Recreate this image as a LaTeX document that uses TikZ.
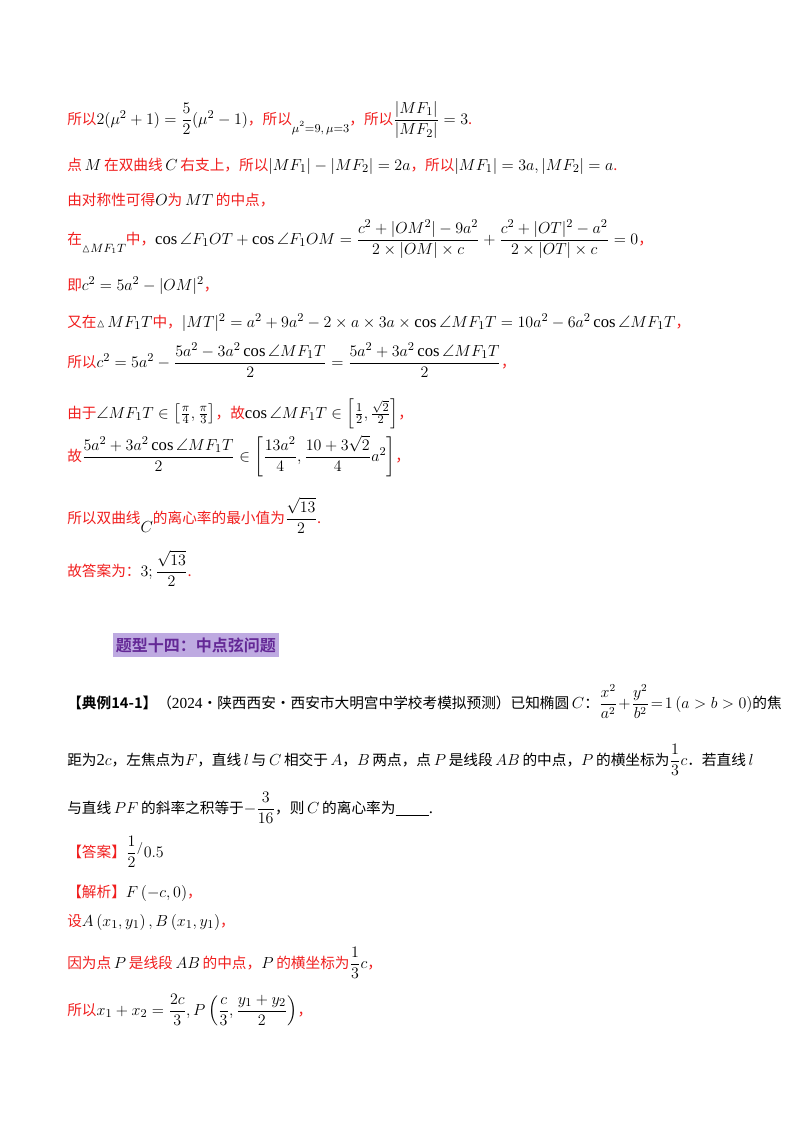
\documentclass[tikz,border=0pt]{standalone}
\usepackage{amsmath,amssymb}
\usepackage{fontspec}
\setmainfont{Liberation Serif}
\newfontfamily\cjk{Noto Sans CJK SC}
\newfontfamily\cjkb{Noto Sans CJK SC Bold}
\definecolor{rd}{RGB}{240,30,30}
\definecolor{hl}{RGB}{190,170,225}
\definecolor{pu}{RGB}{100,40,150}
\newcommand{\zh}[1]{{\fontsize{11}{13}\cjk\color{rd}#1}}
\newcommand{\zk}[1]{{\fontsize{11}{13}\cjk #1}}
\begin{document}
\begin{tikzpicture}[x=0.75pt,y=-0.75pt,
  ln/.style={anchor=base west,inner sep=0pt,font=\fontsize{12.5}{14}\selectfont}]
\useasboundingbox (0,0) rectangle (800,1132);
\node[ln] (l1) at (67,124) {\zh{所以}$2(\mu^2+1)=\dfrac52(\mu^2-1)$\zh{，所以}\raisebox{-6pt}{$\scriptstyle\mu^2=9,\,\mu=3$}\zh{，所以}$\dfrac{|MF_1|}{|MF_2|}=3$\zh{.}};
\node[ln] (l2) at (67,170) {\zh{点}$\,M\,$\zh{在双曲线}$\,C\,$\zh{右支上，所以}$|MF_1|-|MF_2|=2a$\zh{，所以}$|MF_1|=3a,|MF_2|=a$\zh{.}};
\node[ln] (l3) at (67,205) {\zh{由对称性可得}$O$\zh{为}$\,MT\,$\zh{的中点，}};
\node[ln] (l4) at (67,244) {\zh{在}\raisebox{-6pt}{$\scriptstyle\vartriangle MF_1T$}\zh{中，}$\cos\angle F_1OT+\cos\angle F_1OM=\dfrac{c^2+|OM^2|-9a^2}{2\times|OM|\times c}+\dfrac{c^2+|OT|^2-a^2}{2\times|OT|\times c}=0$\zh{，}};
\node[ln] (l5) at (67,290) {\zh{即}$c^2=5a^2-|OM|^2$\zh{，}};
\node[ln] (l6) at (67,327) {\zh{又在}$\scriptstyle\vartriangle\!\textstyle MF_1T$\zh{中，}$|MT|^2=a^2+9a^2-2\times a\times3a\times\cos\angle MF_1T=10a^2-6a^2\cos\angle MF_1T$\zh{，}};
\node[ln] (l7) at (67,367) {\zh{所以}$c^2=5a^2-\dfrac{5a^2-3a^2\cos\angle MF_1T}{2}=\dfrac{5a^2+3a^2\cos\angle MF_1T}{2}$\zh{，}};
\node[ln] (l8) at (67,418) {\zh{由于}$\angle MF_1T\in\bigl[\tfrac{\pi}{4},\tfrac{\pi}{3}\bigr]$\zh{，故}$\cos\angle MF_1T\in\Bigl[\tfrac12,\tfrac{\sqrt{2}}{2}\Bigr]$\zh{，}};
\node[ln] (l9) at (67,461) {\zh{故}$\dfrac{5a^2+3a^2\cos\angle MF_1T}{2}\in\left[\dfrac{13a^2}{4},\dfrac{10+3\sqrt2}{4}a^2\right]$\zh{，}};
\node[ln] (l10) at (67,523) {\zh{所以双曲线}\raisebox{-7pt}{$C$}\zh{的离心率的最小值为}$\dfrac{\sqrt{13}}{2}$\zh{.}};
\node[ln] (l11) at (67,576) {\zh{故答案为：}$3;\dfrac{\sqrt{13}}{2}$\zh{.}};
\node[anchor=west,fill=hl,inner xsep=2pt,inner ysep=3pt,font=\fontsize{12}{13}\selectfont\cjkb,text=pu] (h) at (113,645) {题型十四：中点弦问题};
\node[ln,font=\fontsize{11.5}{14}\selectfont] (p1) at (67,708) {{\fontsize{11}{13}\cjkb【典例14-1】}\zk{（}2024\zk{·陕西西安·西安市大明宫中学校考模拟预测）已知椭圆}$\,C$\zk{：}$\dfrac{x^2}{a^2}\!+\!\dfrac{y^2}{b^2}\!=\!1\left(a>b>0\right)$\zk{的焦}};
\node[ln] (p2) at (67,765) {\zk{距为}2$c$\zk{，左焦点为}$F$\zk{，直线}$\,l\,$\zk{与}$\,C\,$\zk{相交于}$\,A$\zk{，}$B\,$\zk{两点，点}$\,P\,$\zk{是线段}$\,AB\,$\zk{的中点，}$P\,$\zk{的横坐标为}$\dfrac13c$\zk{．若直线}$\,l$};
\node[ln] (p3) at (67,813) {\zk{与直线}$\,PF\,$\zk{的斜率之积等于}$-\dfrac{3}{16}$\zk{，则}$\,C\,$\zk{的离心率为}\underline{\hspace{2em}}.};
\node[ln] (a1) at (67,857) {\zh{【答案】}$\dfrac12{}^{/}0.5$};
\node[ln] (a2) at (67,897) {\zh{【解析】}$F\left(-c,0\right)$\zh{，}};
\node[ln] (a3) at (67,926) {\zh{设}$A\left(x_1,y_1\right),B\left(x_1,y_1\right)$\zh{，}};
\node[ln] (a4) at (67,968) {\zh{因为点}$\,P\,$\zh{是线段}$\,AB\,$\zh{的中点，}$P\,$\zh{的横坐标为}$\dfrac13c$\zh{，}};
\node[ln] (a5) at (67,1015) {\zh{所以}$x_1+x_2=\dfrac{2c}{3},P\left(\dfrac{c}{3},\dfrac{y_1+y_2}{2}\right)$\zh{，}};
\end{tikzpicture}
\end{document}
